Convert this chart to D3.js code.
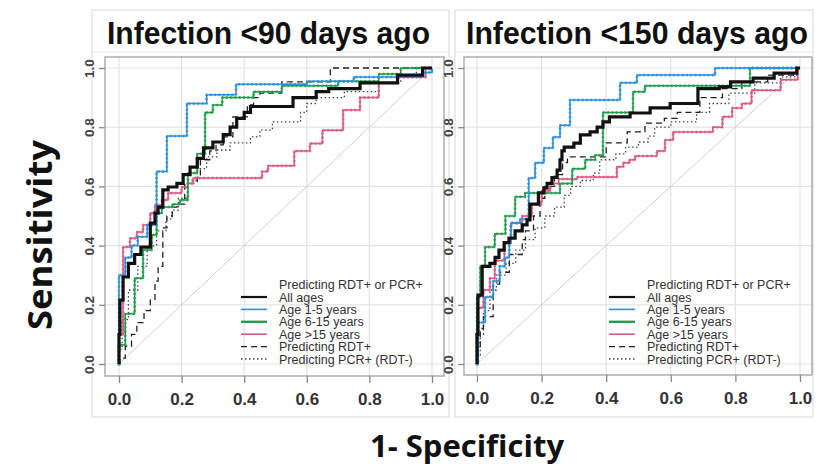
<!DOCTYPE html>
<html>
<head>
<meta charset="utf-8">
<script src="https://cdn.jsdelivr.net/npm/d3@7"></script>
<style>
  body { margin: 0; background: #fff; }
  svg { display: block; }
</style>
</head>
<body>
<script>
var width = 818, height = 475;

// tick values and labels
var ticks = [0, 0.2, 0.4, 0.6, 0.8, 1.0];
var titles = ["Infection <90 days ago", "Infection <150 days ago"];
var legendTitle = "Predicting RDT+ or PCR+";
var seriesNames = ["All ages", "Age 1-5 years", "Age 6-15 years", "Age >15 years", "Predicting RDT+", "Predicting PCR+ (RDT-)"];

// ROC points [1-specificity, sensitivity] (step after)
// panel 1: infection < 90 days
var allAges90 = [[0,0],[0,0.10],[0.003,0.216],[0.013,0.294],[0.03,0.34],[0.05,0.37],[0.07,0.395],[0.1,0.476],[0.115,0.51],[0.125,0.53],[0.14,0.588],[0.157,0.598],[0.185,0.61],[0.205,0.64],[0.227,0.665],[0.25,0.695],[0.27,0.73],[0.30,0.75],[0.333,0.775],[0.355,0.80],[0.376,0.83],[0.40,0.85],[0.42,0.87],[0.556,0.90],[0.63,0.92],[0.67,0.93],[0.77,0.95],[0.89,0.976],[0.97,1.0],[1,1]];
var age1to5_90 = [[0,0],[0,0.30],[0.02,0.36],[0.04,0.40],[0.06,0.43],[0.09,0.47],[0.12,0.65],[0.153,0.77],[0.217,0.88],[0.28,0.91],[0.374,0.945],[0.6,0.955],[0.75,0.97],[0.97,0.985],[1,1]];
var age6to15_90 = [[0,0],[0,0.064],[0.02,0.17],[0.05,0.29],[0.077,0.385],[0.105,0.436],[0.12,0.51],[0.137,0.53],[0.17,0.54],[0.195,0.554],[0.22,0.645],[0.25,0.71],[0.275,0.85],[0.30,0.875],[0.33,0.90],[0.43,0.92],[0.52,0.94],[0.70,0.955],[0.83,0.98],[0.9,1.0],[1,1]];
var ageOver15_90 = [[0,0],[0,0.1],[0.013,0.395],[0.035,0.425],[0.057,0.446],[0.077,0.47],[0.1,0.51],[0.115,0.537],[0.137,0.554],[0.157,0.578],[0.2,0.598],[0.22,0.61],[0.237,0.628],[0.457,0.65],[0.476,0.67],[0.56,0.72],[0.61,0.745],[0.65,0.79],[0.716,0.858],[0.77,0.90],[0.83,0.95],[0.89,0.97],[0.98,1.0],[1,1]];
var rdt90 = [[0,0],[0.003,0.02],[0.02,0.06],[0.04,0.10],[0.057,0.14],[0.08,0.18],[0.1,0.216],[0.115,0.28],[0.125,0.33],[0.14,0.46],[0.153,0.5],[0.17,0.53],[0.185,0.54],[0.21,0.61],[0.25,0.63],[0.26,0.69],[0.29,0.72],[0.31,0.74],[0.333,0.767],[0.364,0.835],[0.41,0.875],[0.43,0.90],[0.45,0.915],[0.52,0.953],[0.675,1.0],[1,1]];
var pcr90 = [[0,0],[0,0.05],[0.01,0.15],[0.03,0.25],[0.06,0.33],[0.09,0.40],[0.12,0.45],[0.15,0.49],[0.17,0.52],[0.19,0.56],[0.22,0.62],[0.25,0.66],[0.28,0.70],[0.313,0.723],[0.355,0.747],[0.42,0.767],[0.45,0.79],[0.49,0.818],[0.58,0.85],[0.60,0.88],[0.63,0.90],[0.72,0.92],[0.83,0.95],[0.9,0.97],[0.95,1.0],[1,1]];

// panel 2: infection < 150 days
var allAges150 = [[0,0],[0,0.10],[0.003,0.233],[0.016,0.33],[0.04,0.34],[0.056,0.36],[0.068,0.385],[0.084,0.41],[0.099,0.425],[0.118,0.45],[0.14,0.47],[0.155,0.487],[0.164,0.54],[0.19,0.578],[0.207,0.595],[0.217,0.61],[0.232,0.63],[0.248,0.655],[0.257,0.69],[0.263,0.72],[0.27,0.733],[0.30,0.746],[0.32,0.774],[0.35,0.784],[0.372,0.80],[0.39,0.818],[0.41,0.835],[0.474,0.848],[0.536,0.865],[0.598,0.88],[0.684,0.93],[0.75,0.936],[0.785,0.953],[0.855,0.966],[0.92,0.983],[0.99,1.0],[1,1]];
var age1to5_150 = [[0,0],[0.003,0.14],[0.025,0.226],[0.05,0.28],[0.07,0.33],[0.087,0.36],[0.1,0.41],[0.105,0.476],[0.133,0.49],[0.16,0.628],[0.18,0.68],[0.207,0.73],[0.235,0.767],[0.257,0.807],[0.288,0.892],[0.443,0.95],[0.495,0.976],[0.737,1.0],[1,1]];
var age6to15_150 = [[0,0],[0,0.226],[0.01,0.33],[0.025,0.395],[0.055,0.44],[0.088,0.50],[0.118,0.565],[0.149,0.578],[0.257,0.61],[0.295,0.66],[0.335,0.69],[0.366,0.705],[0.39,0.85],[0.483,0.92],[0.52,0.94],[0.845,1.0],[1,1]];
var ageOver15_150 = [[0,0],[0,0.11],[0.003,0.19],[0.02,0.25],[0.04,0.29],[0.055,0.35],[0.085,0.41],[0.105,0.476],[0.14,0.50],[0.17,0.54],[0.2,0.585],[0.227,0.61],[0.253,0.625],[0.31,0.632],[0.433,0.666],[0.453,0.68],[0.473,0.69],[0.49,0.703],[0.557,0.72],[0.582,0.757],[0.607,0.784],[0.73,0.80],[0.76,0.835],[0.79,0.865],[0.82,0.88],[0.85,0.925],[0.94,0.96],[0.993,1.0],[1,1]];
var rdt150 = [[0,0],[0.003,0.05],[0.01,0.12],[0.02,0.16],[0.05,0.27],[0.07,0.31],[0.1,0.37],[0.14,0.42],[0.15,0.45],[0.175,0.50],[0.195,0.56],[0.21,0.60],[0.24,0.64],[0.265,0.68],[0.28,0.70],[0.40,0.747],[0.465,0.784],[0.52,0.814],[0.58,0.83],[0.62,0.85],[0.69,0.90],[0.76,0.93],[0.82,0.953],[0.90,0.976],[0.99,1.0],[1,1]];
var pcr150 = [[0,0],[0.003,0.03],[0.01,0.10],[0.02,0.18],[0.04,0.25],[0.06,0.30],[0.09,0.34],[0.12,0.385],[0.15,0.42],[0.18,0.46],[0.21,0.50],[0.24,0.53],[0.27,0.57],[0.29,0.60],[0.32,0.62],[0.36,0.645],[0.38,0.69],[0.43,0.71],[0.46,0.733],[0.5,0.75],[0.53,0.77],[0.55,0.80],[0.6,0.818],[0.68,0.85],[0.72,0.88],[0.78,0.915],[0.86,0.95],[0.94,0.97],[0.99,1.0],[1,1]];

var colors = ["#111111", "#2f8fe0", "#1f9e4c", "#dc5a80", "#222222", "#444444"];

var panels = [
  { title: titles[0], titleX: 107, titleW: 323, series: [pcr90, rdt90, ageOver15_90, age6to15_90, age1to5_90, allAges90],
    box: [105, 57, 444, 376], xr: [119, 432], frame: [92, 10, 449, 417] },
  { title: titles[1], titleX: 466, titleW: 342, series: [pcr150, rdt150, ageOver15_150, age6to15_150, age1to5_150, allAges150],
    box: [464, 57, 812, 375], xr: [477, 800], frame: [455, 10, 813, 417] }
];
// drawing order above is back-to-front; map back to legend index
var order = [5, 4, 3, 2, 1, 0];

var svg = d3.select("body").append("svg")
    .attr("width", width)
    .attr("height", height);

panels.forEach(function(p) {
  var g = svg.append("g");
  var x = d3.scaleLinear().domain([0, 1]).range(p.xr);
  var y = d3.scaleLinear().domain([0, 1]).range([364, 68]);

  // outer frame + title box
  g.append("rect")
    .attr("x", p.frame[0]).attr("y", p.frame[1])
    .attr("width", p.frame[2] - p.frame[0]).attr("height", p.frame[3] - p.frame[1])
    .attr("fill", "none").attr("stroke", "#d8d8d8").attr("stroke-width", 1);
  g.append("line")
    .attr("x1", p.frame[0]).attr("x2", p.frame[2])
    .attr("y1", 52).attr("y2", 52)
    .attr("stroke", "#e8e8e8");

  g.append("text")
    .attr("x", p.titleX)
    .attr("y", 44)
    .attr("textLength", p.titleW)
    .attr("lengthAdjust", "spacingAndGlyphs")
    .style("font-family", "'Liberation Sans', Arial, sans-serif")
    .style("font-weight", "bold")
    .style("font-size", "31px")
    .attr("fill", "#111")
    .text(p.title);

  // grid
  g.selectAll(".vgrid").data(ticks).enter().append("line")
    .attr("x1", function(d) { return x(d); }).attr("x2", function(d) { return x(d); })
    .attr("y1", p.box[1]).attr("y2", p.box[3])
    .attr("stroke", "#e3e3e3").attr("stroke-width", 1.2);
  g.selectAll(".hgrid").data(ticks).enter().append("line")
    .attr("x1", p.box[0]).attr("x2", p.box[2])
    .attr("y1", function(d) { return y(d); }).attr("y2", function(d) { return y(d); })
    .attr("stroke", "#e3e3e3").attr("stroke-width", 1.2);

  // diagonal
  g.append("line")
    .attr("x1", x(0)).attr("y1", y(0)).attr("x2", x(1)).attr("y2", y(1))
    .attr("stroke", "#d0d0d0").attr("stroke-width", 1);

  // box
  g.append("rect")
    .attr("x", p.box[0]).attr("y", p.box[1])
    .attr("width", p.box[2] - p.box[0]).attr("height", p.box[3] - p.box[1])
    .attr("fill", "none").attr("stroke", "#a0a0a0").attr("stroke-width", 1.3);

  // axes
  var xAxis = g.append("g")
    .attr("transform", "translate(0," + p.box[3] + ")")
    .call(d3.axisBottom(x).tickValues(ticks).tickSize(7).tickPadding(10).tickFormat(d3.format(".1f")));
  xAxis.select(".domain").remove();
  xAxis.selectAll("line").attr("stroke", "#888").attr("stroke-width", 1.3);
  xAxis.selectAll("text")
    .style("font-family", "'Liberation Sans', Arial, sans-serif")
    .style("font-weight", "bold").style("font-size", "17px").attr("fill", "#333");

  var yAxis = g.append("g")
    .attr("transform", "translate(" + p.box[0] + ",0)")
    .call(d3.axisLeft(y).tickValues(ticks).tickSize(6).tickFormat(d3.format(".1f")));
  yAxis.select(".domain").remove();
  yAxis.selectAll("line").attr("stroke", "#888").attr("stroke-width", 1.3);
  yAxis.selectAll("text")
    .attr("x", null).attr("dy", null)
    .attr("text-anchor", "middle")
    .attr("transform", "translate(-11,0) rotate(-90)")
    .style("font-family", "'Liberation Sans', Arial, sans-serif")
    .style("font-weight", "bold").style("font-size", "13.5px").attr("fill", "#444");

  // curves
  var line = d3.line()
    .x(function(d) { return x(d[0]); })
    .y(function(d) { return y(d[1]); })
    .curve(d3.curveStepAfter);

  p.series.forEach(function(s, i) {
    var k = order[i];
    var path = g.append("path")
      .datum(s)
      .attr("d", line)
      .attr("fill", "none")
      .attr("stroke", colors[k]);
    if (k === 0) {
      path.attr("stroke-width", 3.2);
    } else if (k === 4) {
      path.attr("stroke-width", 1.3).attr("stroke-dasharray", "6,4");
    } else if (k === 5) {
      path.attr("stroke-width", 1.3).attr("stroke-dasharray", "1.5,2.5");
    } else {
      path.attr("stroke-width", 1.5);
      // point markers along the step line
      g.append("path")
        .datum(s)
        .attr("d", line)
        .attr("fill", "none")
        .attr("stroke", colors[k])
        .attr("stroke-width", 3)
        .attr("stroke-linecap", "round")
        .attr("stroke-opacity", 0.75)
        .attr("stroke-dasharray", "0,4.3");
    }
  });

  // legend
  var lx = p.box[2] - 203;
  var leg = g.append("g").attr("transform", "translate(" + lx + ",0)");
  leg.append("text")
    .attr("x", 38).attr("y", 289)
    .style("font-family", "'Liberation Sans', Arial, sans-serif")
    .style("font-size", "12.5px").attr("fill", "#333")
    .text(legendTitle);
  seriesNames.forEach(function(name, i) {
    var ly = 297 + i * 12.4;
    var ln = leg.append("line")
      .attr("x1", 0).attr("x2", 26).attr("y1", ly).attr("y2", ly)
      .attr("stroke", colors[i]);
    if (i === 0) ln.attr("stroke-width", 2.2);
    else if (i === 4) ln.attr("stroke-width", 1.3).attr("stroke-dasharray", "6,4");
    else if (i === 5) ln.attr("stroke-width", 1.3).attr("stroke-dasharray", "1.5,2.5");
    else ln.attr("stroke-width", i === 2 ? 2.4 : 1.6);
    leg.append("text")
      .attr("x", 38).attr("y", ly + 4.5)
      .style("font-family", "'Liberation Sans', Arial, sans-serif")
      .style("font-size", "12.5px").attr("fill", "#333")
      .text(name);
  });
});

// axis titles
svg.append("text")
  .attr("transform", "translate(52,235) rotate(-90)")
  .attr("text-anchor", "middle")
  .attr("textLength", 190)
  .attr("lengthAdjust", "spacingAndGlyphs")
  .style("font-family", "'Open Sans', sans-serif")
  .style("font-weight", "bold").style("font-size", "34px")
  .attr("fill", "#111")
  .text("Sensitivity");

svg.append("text")
  .attr("x", 467).attr("y", 457)
  .attr("text-anchor", "middle")
  .style("font-family", "'Open Sans', sans-serif")
  .style("font-weight", "bold").style("font-size", "31px")
  .attr("fill", "#111")
  .text("1- Specificity");
</script>
</body>
</html>
